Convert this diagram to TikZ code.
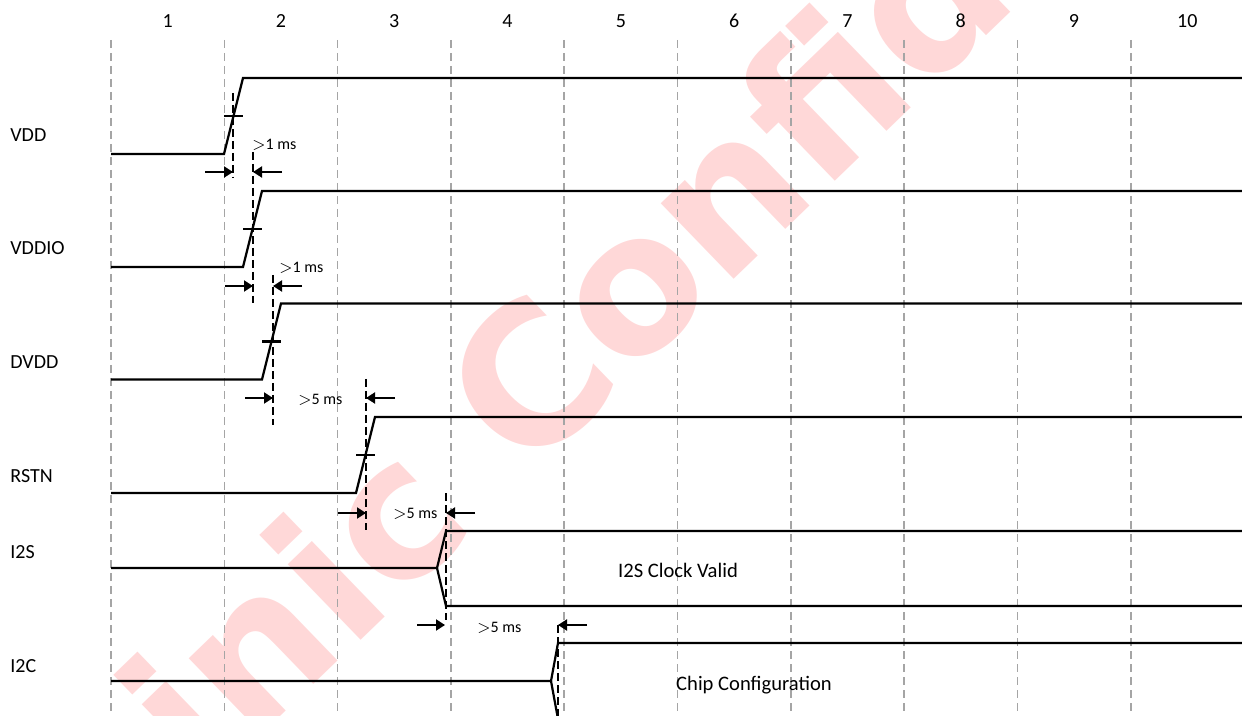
\documentclass[tikz,border=0pt]{standalone}
\usepackage{fontspec}
\setmainfont{Carlito}
\newfontfamily\stampfont{DejaVu Sans}
\usepackage{tikz}
\usetikzlibrary{arrows.meta}
\definecolor{gridgray}{RGB}{165,165,165}
\definecolor{stamppink}{RGB}{255,216,216}

\begin{document}
\begin{tikzpicture}[
    x=0.5pt, y=-0.5pt,
    gridline/.style={draw=gridgray, line width=0.8pt, dash pattern=on 4pt off 2.5pt},
    wave/.style={draw=black, line width=1.1pt},
    edgemark/.style={draw=black, line width=1pt, dash pattern=on 4pt off 2pt},
    gaparrow/.style={-{Triangle[length=4.5pt,width=5.5pt]}, line width=1pt},
    colnum/.style={anchor=base, inner sep=0pt, font=\fontsize{10}{12}\selectfont},
    signame/.style={anchor=base west, inner sep=0pt, font=\fontsize{10}{12}\selectfont},
    delay/.style={anchor=base west, inner sep=0pt, font=\fontsize{8}{10}\selectfont},
    busdata/.style={anchor=base, inner sep=0pt, font=\fontsize{10.3}{12}\selectfont}
]
\useasboundingbox (0,0) rectangle (1242,716);
\clip (0,0) rectangle (1242,716);

\node[stamppink, rotate=44, anchor=base west, inner sep=0pt, font=\stampfont\bfseries\fontsize{96}{96}\selectfont] (stamp) at (203,792) {inic Confid};

\foreach \k in {0,...,9}
  \draw[gridline] ({111+113.3*\k},40) -- ({111+113.3*\k},716);
\foreach \k in {1,...,10}
  \node[colnum] (col\k) at ({111+113.3*(\k-0.5)},28) {\k};

\node[signame] (vdd) at (10,142) {VDD};
\node[signame] (vddio) at (10,255) {VDDIO};
\node[signame] (dvdd) at (10,369) {DVDD};
\node[signame] (rstn) at (10,482) {RSTN};
\node[signame] (i2s) at (10,558) {I2S};
\node[signame] (i2c) at (10,672) {I2C};

% supply rails and reset
\foreach \lo/\xs in {154/224, 267/243, 379.5/262, 493/356} {
  \draw[wave] (111,\lo) -- (\xs,\lo) -- ({\xs+19},{\lo-76}) -- (1242,{\lo-76});
  \draw[wave] (\xs,{\lo-38}) -- ({\xs+19},{\lo-38});
}

% buses
\draw[wave] (111,568) -- (437,568) -- (446,531) -- (1242,531);
\draw[wave] (437,568) -- (446,606) -- (1242,606);
\draw[wave] (111,681) -- (551,681) -- (558,643) -- (1242,643);
\draw[wave] (551,681) -- (558,719);

\foreach \x/\ya/\yb in {233/93/178, 253/152/303, 273/275/425, 366/379/530, 446/493/620, 558/625/716}
  \draw[edgemark] (\x,\ya) -- (\x,\yb);

\foreach \y/\xa/\xb in {172/233/253, 286/253/273, 398/273/366, 513/366/446, 625/445/558} {
  \draw[gaparrow] ({\xa-28},\y) -- (\xa,\y);
  \draw[gaparrow] ({\xb+29},\y) -- (\xb,\y);
}

\node[delay] (gap1) at (252,150) {$>$1 ms};
\node[delay] (gap2) at (279,273) {$>$1 ms};
\node[delay] (gap3) at (298,405) {$>$5 ms};
\node[delay] (gap4) at (393,518) {$>$5 ms};
\node[delay] (gap5) at (477,632) {$>$5 ms};

\node[busdata] (clock) at (678,577) {I2S Clock Valid};
\node[busdata] (config) at (754,690) {Chip Configuration};
\end{tikzpicture}
\end{document}
